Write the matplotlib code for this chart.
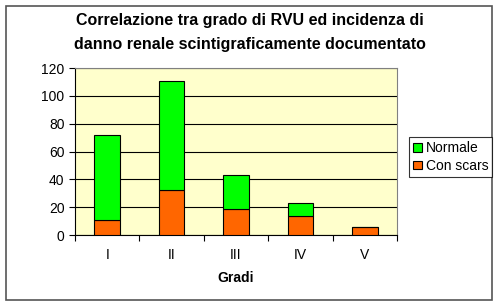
import matplotlib
matplotlib.use("Agg")
import matplotlib.pyplot as plt
from matplotlib.patches import Rectangle
import numpy as np

# data
gradi = ["I", "II", "III", "IV", "V"]
con_scars = [11, 32, 19, 14, 6]
normale = [61, 79, 24, 9, 0]

plt.rcParams["font.family"] = ["Liberation Sans", "DejaVu Sans"]

fig = plt.figure(figsize=(5, 3.08), dpi=100)
fig.patches.append(Rectangle((0.012, 0.025), 0.972, 0.955, transform=fig.transFigure,
                             fill=False, edgecolor="#555555", linewidth=1.2))

ax = fig.add_axes([0.15, 0.237, 0.644, 0.542])
ax.set_facecolor("#FFFFCC")

x = np.arange(len(gradi))
ax.bar(x, con_scars, width=0.4, color="#FF6600", edgecolor="black", linewidth=0.8,
       label="Con scars", zorder=3)
ax.bar(x, normale, width=0.4, bottom=con_scars, color="#00FF00", edgecolor="black",
       linewidth=0.8, label="Normale", zorder=3)

ax.set_xlim(-0.5, len(gradi) - 0.5)
ax.set_ylim(0, 120)
ax.set_yticks(range(0, 121, 20))
ax.yaxis.grid(True, color="black", linewidth=0.8, zorder=0)
ax.set_xticks(np.arange(-0.5, len(gradi), 1))
ax.set_xticklabels([])
ax.set_xticks(x, minor=True)
ax.set_xticklabels(gradi, minor=True)
ax.tick_params(axis="x", which="major", length=4, direction="out", width=0.8)
ax.tick_params(axis="x", which="minor", length=0, pad=9, labelsize=10)
ax.tick_params(axis="y", length=4, width=0.8, labelsize=10)

for s in ["top", "right"]:
    ax.spines[s].set_color("#808080")
for s in ["left", "bottom"]:
    ax.spines[s].set_color("black")

ax.set_xlabel("Gradi", fontweight="bold", fontsize=10, labelpad=7)

fig.text(0.5, 0.935, "Correlazione tra grado di RVU ed incidenza di",
         ha="center", va="center", fontsize=11.5, fontweight="bold")
fig.text(0.5, 0.855, "danno renale scintigraficamente documentato",
         ha="center", va="center", fontsize=11.5, fontweight="bold")

handles, labels = ax.get_legend_handles_labels()
leg = fig.legend(handles[::-1], labels[::-1], loc="center left",
                 bbox_to_anchor=(0.818, 0.49), fontsize=10, frameon=True,
                 fancybox=False, edgecolor="black", handlelength=0.6,
                 handleheight=0.6, handletextpad=0.3, borderpad=0.3,
                 labelspacing=0.25, borderaxespad=0)
leg.get_frame().set_linewidth(0.8)

fig.savefig("out.png", dpi=100)
